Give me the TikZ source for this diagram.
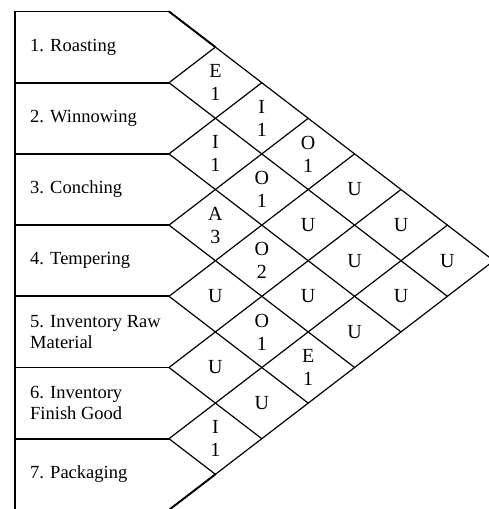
\documentclass[tikz,border=0pt]{standalone}
\usepackage{fontspec}
\setmainfont{Liberation Serif}
\begin{document}
\begin{tikzpicture}[x=1pt,y=-1pt,
  frame/.style={line width=1.9pt,line cap=round,line join=round},
  grid/.style={line width=1.2pt,line cap=round},
  dept/.style={anchor=west,align=left,inner sep=0pt,font=\fontsize{18.5}{21}\selectfont},
  rel/.style={align=center,inner sep=0pt,font=\fontsize{20}{23}\selectfont}]
\clip (0,0) rectangle (489,509);
\fill[white] (0,0) rectangle (489,509);
% layout constants: left edge, start of the diamond zone, half cell width,
% top of the first row, row height
\def\Xa{15}\def\Xb{169}\def\W{46.4}\def\Yo{11.5}\def\H{71.2}
% outer left edge and row separators
\draw[frame] (\Xa,\Yo) -- (\Xa,530);
\foreach \k in {0,...,7}{
  \pgfmathsetmacro\yk{\Yo+\H*\k}
  \draw[frame] (\Xa,\yk) -- (\Xb,\yk);
}
% diagonal grid of the relationship chart
\foreach \k in {0,...,6}{
  \pgfmathsetmacro\yk{\Yo+\H*\k}
  \pgfmathsetmacro\xe{\Xb+\W*(7-\k)}
  \pgfmathsetmacro\ye{\yk+(7-\k)*\H/2}
  \draw[grid] (\Xb,\yk) -- (\xe,\ye);
}
\foreach \k in {1,...,7}{
  \pgfmathsetmacro\yk{\Yo+\H*\k}
  \pgfmathsetmacro\xe{\Xb+\W*\k}
  \pgfmathsetmacro\ye{\yk-\k*\H/2}
  \draw[grid] (\Xb,\yk) -- (\xe,\ye);
}
% heavier outer cut at top and bottom of the label column
\draw[frame] (\Xb,\Yo) -- ({\Xb+\W},{\Yo+\H/2});
\draw[frame] (\Xb,{\Yo+7*\H}) -- ({\Xb+\W},{\Yo+6.5*\H});
% department labels
\foreach \i/\t in {1/{1. Roasting},2/{2. Winnowing},3/{3. Conching},
  4/{4. Tempering},5/{5. Inventory Raw\\Material},
  6/{6. Inventory\\Finish Good},7/{7. Packaging}}{
  \node[dept] (r\i) at (30,{\Yo+\H*(\i-0.5)}) {\t};
}
% closeness ratings
\foreach \i/\j/\t in {1/2/{E\\1},2/3/{I\\1},3/4/{A\\3},4/5/{U},5/6/{U},6/7/{I\\1},
  1/3/{I\\1},2/4/{O\\1},3/5/{O\\2},4/6/{O\\1},5/7/{U},
  1/4/{O\\1},2/5/{U},3/6/{U},4/7/{E\\1},
  1/5/{U},2/6/{U},3/7/{U},
  1/6/{U},2/7/{U},
  1/7/{U}}{
  \node[rel] (c\i\j) at ({\Xb+\W*(\j-\i)},{\Yo+\H*(\i+\j-1)/2}) {\t};
}
\end{tikzpicture}
\end{document}
